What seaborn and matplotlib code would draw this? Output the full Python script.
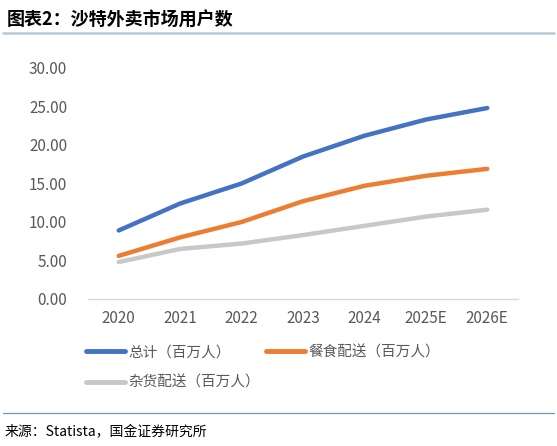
import seaborn as sns
import matplotlib.pyplot as plt
import pandas as pd
from matplotlib.lines import Line2D

years = ['2020', '2021', '2022', '2023', '2024', '2025E', '2026E']
total = [8.9, 12.4, 15.0, 18.5, 21.2, 23.3, 24.8]
food = [5.6, 8.0, 10.0, 12.7, 14.7, 16.0, 16.9]
grocery = [4.8, 6.5, 7.2, 8.3, 9.5, 10.7, 11.6]
series_names = ['总计（百万人）', '餐食配送（百万人）', '杂货配送（百万人）']
colors = ['#4472C4', '#ED7D31', '#C8C8C8']

df = pd.DataFrame({'year': years * 3,
                   'value': total + food + grocery,
                   'series': [series_names[0]] * 7 + [series_names[1]] * 7 + [series_names[2]] * 7})

sns.set_theme(style='white')
plt.rcParams['font.family'] = ['Noto Sans CJK SC', 'DejaVu Sans']

fig = plt.figure(figsize=(5.57, 4.46), dpi=100)
ax = fig.add_axes([0.158, 0.3296, 0.772, 0.518])

sns.lineplot(data=df, x='year', y='value', hue='series', palette=colors,
             linewidth=3.2, ax=ax, legend=False, sort=False)

ax.set_ylim(0, 30)
ax.set_yticks([0, 5, 10, 15, 20, 25, 30])
ax.set_yticklabels(['%.2f' % v for v in [0, 5, 10, 15, 20, 25, 30]])
ax.set_xlim(-0.5, 6.5)
ax.set_xlabel('')
ax.set_ylabel('')
ax.tick_params(axis='both', colors='#595959', labelsize=11, length=0)
ax.tick_params(axis='y', pad=15)
ax.tick_params(axis='x', pad=8)
for s in ['top', 'right', 'left']:
    ax.spines[s].set_visible(False)
ax.spines['bottom'].set_color('#d9d9d9')
ax.spines['bottom'].set_linewidth(1)

# row-major legend order: total, food on row 1; grocery on row 2
order = [0, 2, 1]
handles = [Line2D([0], [0], color=colors[i], lw=3.5, solid_capstyle='round') for i in order]
labels = [series_names[i] for i in order]
fig.legend(handles, labels, ncol=2, loc='upper left',
           bbox_to_anchor=(0.131, 0.255), frameon=False, fontsize=10.5,
           labelcolor='#595959', handlelength=2.7, handletextpad=0.2,
           columnspacing=0.4, labelspacing=1.1)

# title and rules
fig.text(0.012, 0.955, '图表2：沙特外卖市场用户数', fontsize=13, fontweight='bold',
         va='center', ha='left', color='black')
fig.add_artist(Line2D([0.005, 0.995], [0.925, 0.925], color='#b9cbd8', lw=1.8))
fig.add_artist(Line2D([0.005, 0.995], [0.074, 0.074], color='#6f98b4', lw=0.9))
fig.text(0.008, 0.031, '来源：Statista，国金证券研究所', fontsize=10, va='center',
         ha='left', color='black')

fig.savefig('out.png', dpi=100)
